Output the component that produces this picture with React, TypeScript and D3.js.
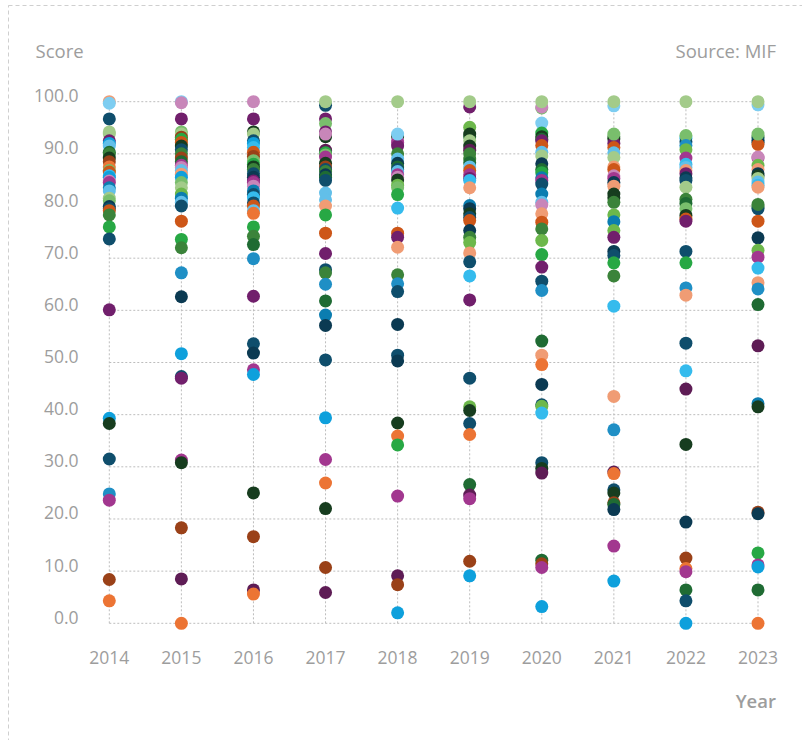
import React from "react";
import * as d3 from "d3";

const years = [2014, 2015, 2016, 2017, 2018, 2019, 2020, 2021, 2022, 2023];
const yTicks = [0, 10, 20, 30, 40, 50, 60, 70, 80, 90, 100];

const palette = [
  "#7dcdf1", "#0f4e6c", "#a3cb8a", "#711f6c", "#0ea0dc", "#1f6b33", "#9a4118", "#c886b9",
  "#ec7434", "#f09c74", "#27a844", "#a2378f", "#173d1f", "#79be6c", "#0b3a52", "#1f8fc5",
  "#5e1c55", "#3b833a", "#cd5618", "#35bbed", "#6db84b", "#62bfe9", "#0b7db0",
];

// [score, colour index]
const scores2014 = [[100,9],[99.7,0],[96.7,1],[94.2,2],[93.8,2],[92.5,3],[92,4],[91.5,21],[90.3,5],[90,17],[89.2,12],[88.5,6],[87.5,8],[86.8,13],[86.5,18],[85.8,19],[85.5,4],[84.8,7],[84.5,11],[83.5,22],[82.9,21],[81.5,2],[81,13],[79.9,14],[79.5,1],[79.1,18],[78.3,17],[76.0,10],[73.7,1],[60.1,3],[39.3,4],[38.3,12],[31.5,1],[24.8,15],[23.6,11],[8.4,6],[4.3,8]];
const scores2015 = [[100,0],[99.8,7],[96.7,3],[94.2,13],[93.8,2],[93.2,6],[92.8,10],[92.2,18],[91.5,12],[90.8,1],[90,17],[89.2,6],[88.5,5],[87.8,11],[87.4,7],[86.8,21],[86.1,9],[85.5,4],[84.5,13],[83.5,2],[82.3,20],[81.5,22],[80.7,21],[80.0,1],[77.1,18],[73.6,10],[72.0,17],[67.2,15],[62.6,14],[51.7,4],[47.3,1],[47.0,3],[31.3,11],[30.8,12],[18.3,6],[8.5,16],[0,8]];
const scores2016 = [[100,7],[96.7,3],[94.2,12],[93.8,2],[92.5,1],[92,4],[91.2,19],[90.3,18],[89.5,6],[88.7,13],[88,10],[87.5,12],[87,17],[86.2,1],[85.5,14],[84.8,3],[84.5,11],[83.8,7],[82.9,22],[82.2,1],[81.6,19],[80.6,1],[80,18],[79.1,21],[78.6,8],[76.0,10],[74.2,17],[72.6,5],[69.9,15],[62.7,3],[53.6,1],[51.8,14],[48.6,11],[47.7,4],[25.0,12],[16.6,6],[6.4,16],[5.6,8]];
const scores2017 = [[99.3,1],[100,2],[96.7,3],[95.8,13],[94.2,3],[93.3,12],[93.8,7],[90.7,16],[90.2,10],[89.8,13],[89.4,11],[88.2,12],[87.5,6],[87,1],[86.6,17],[86,14],[85.5,5],[84.9,1],[82.5,21],[81.2,21],[80,9],[78.3,10],[74.8,18],[70.9,3],[67.8,1],[67.2,17],[65.0,15],[61.8,5],[59.1,22],[57.1,14],[50.5,1],[39.4,4],[31.4,11],[26.9,8],[22.0,12],[10.7,6],[5.9,16]];
const scores2018 = [[100,2],[93.3,12],[92.5,7],[92.2,11],[91.5,3],[93.8,0],[90,17],[89,21],[88.2,14],[87.5,5],[87,1],[86.6,21],[86,11],[85.5,7],[85,12],[84,20],[83.5,13],[82.2,10],[79.6,19],[74.8,18],[74.0,3],[72.1,9],[66.8,17],[65.1,15],[63.6,1],[57.3,14],[51.4,1],[50.3,14],[38.4,12],[35.9,8],[34.2,10],[24.4,11],[9.1,16],[7.4,6],[2.0,4]];
const scores2019 = [[99,3],[100,2],[95.1,20],[93.3,5],[93.8,12],[92.5,2],[91.5,12],[90.7,16],[90,17],[89,17],[88.3,5],[87.5,21],[86.8,18],[86,11],[85.3,3],[84.9,19],[83.5,9],[80.1,22],[79.5,14],[78.5,12],[77.8,1],[77.2,18],[75.3,14],[74.0,17],[73.0,20],[71.0,9],[69.3,1],[66.6,19],[62.0,3],[47.0,1],[41.5,20],[40.8,12],[38.3,1],[36.2,8],[26.6,5],[24.6,16],[23.9,11],[11.9,6],[9.1,4]];
const scores2020 = [[98.8,13],[99,7],[100,2],[95.9,0],[94,10],[93.3,12],[92.8,5],[92.5,3],[91.6,18],[90.3,21],[89.6,2],[88.1,14],[87,5],[86.4,10],[85.4,22],[84.9,11],[84.2,1],[82.3,22],[80.7,21],[80.2,7],[78.5,9],[76.9,18],[75.6,17],[73.4,20],[70.7,10],[68.3,3],[65.6,1],[63.8,15],[54.1,5],[51.4,9],[49.6,8],[45.8,14],[41.9,1],[41.6,20],[40.3,19],[30.8,1],[29.7,12],[28.8,16],[12.1,5],[11.4,6],[10.7,11],[3.2,4]];
const scores2021 = [[99.2,0],[100,2],[93.3,17],[92.9,12],[92,3],[93.8,13],[91.2,18],[90.2,21],[89.3,2],[87.5,9],[87,18],[85.8,7],[85.3,11],[84.5,14],[83.8,9],[82.3,12],[81.6,12],[80.7,17],[78.3,20],[77,22],[75.3,20],[74,3],[71.3,14],[70.5,1],[69.1,10],[66.6,17],[60.8,19],[43.5,9],[37.1,15],[29.0,16],[28.7,8],[25.6,1],[25.0,12],[23.1,6],[22.8,5],[21.8,14],[14.8,11],[8.1,4]];
const scores2022 = [[100,2],[93,19],[92.3,1],[93.5,13],[91.6,15],[90.8,20],[89.2,11],[88,19],[87.4,21],[86.8,9],[86.2,3],[85.4,14],[84.9,1],[83.6,2],[81.3,17],[80.5,5],[79.5,13],[78.2,12],[77.5,18],[77.1,3],[71.3,1],[69.1,10],[64.3,15],[62.9,9],[53.7,1],[48.4,19],[44.9,16],[34.3,12],[19.4,14],[12.5,6],[10.5,8],[9.9,11],[6.4,5],[4.3,1],[0,4]];
const scores2023 = [[99.4,0],[100,2],[93.2,5],[92.6,1],[92.2,14],[91.8,18],[93.8,13],[89.2,11],[89.4,7],[87.8,20],[87,9],[86.2,14],[85.8,12],[85.3,2],[84.6,21],[84,19],[83.6,9],[79.8,5],[79.5,1],[80.3,17],[77.1,18],[73.9,14],[71.5,20],[70.2,11],[68.1,19],[65.3,9],[64.1,15],[61.1,5],[53.2,16],[42.1,22],[41.5,12],[21.3,6],[21.0,14],[13.5,10],[11.2,11],[10.8,4],[6.4,5],[0,8]];

const scoresByYear = [scores2014, scores2015, scores2016, scores2017, scores2018, scores2019, scores2020, scores2021, scores2022, scores2023];

const FONT = "'Open Sans', Lato, sans-serif";
const TEXT = "#9d9d9d";

export default function App() {
  const x = d3.scalePoint<number>().domain(years).range([109.3, 758]);
  const y = d3.scaleLinear().domain([0, 100]).range([623.3, 101.7]);
  const x0 = x(years[0])!;
  const x1 = x(years[years.length - 1])!;

  const points = scoresByYear.flatMap((list, i) =>
    list.map(([v, c], j) => ({ year: years[i], v, c, key: `${i}-${j}` }))
  );

  return (
    <svg width={802} height={740} style={{ position: "absolute", left: 0, top: 0 }}>
      <rect x={8.5} y={5.5} width={900} height={900} fill="none" stroke="#cfcfcf" strokeDasharray="4,3" />
      <g stroke="#bdbdbd" strokeDasharray="2,2" strokeWidth={1}>
        {yTicks.map((t) => (
          <line key={`h${t}`} x1={x0} x2={x1} y1={y(t)} y2={y(t)} />
        ))}
        {years.map((yr) => (
          <line key={`v${yr}`} x1={x(yr)} x2={x(yr)} y1={y(0)} y2={y(100)} />
        ))}
      </g>
      <g fontFamily={FONT} fill={TEXT}>
        <text x={35.5} y={57.5} fontSize={18.5}>Score</text>
        <text x={776} y={57.5} fontSize={18.5} textAnchor="end">Source: MIF</text>
        <text x={776} y={708} fontSize={18.5} textAnchor="end" fontWeight={600}>Year</text>
        {yTicks.map((t) => (
          <text key={`yl${t}`} x={78.5} y={y(t) + 0.5} fontSize={17.5} textAnchor="end">
            {t.toFixed(1)}
          </text>
        ))}
        {years.map((yr) => (
          <text key={`xl${yr}`} x={x(yr)} y={663.5} fontSize={17.5} textAnchor="middle">
            {yr}
          </text>
        ))}
      </g>
      <g>
        {points.map((p) => (
          <circle key={p.key} cx={x(p.year)} cy={y(p.v)} r={6.5} fill={palette[p.c]} />
        ))}
      </g>
    </svg>
  );
}
